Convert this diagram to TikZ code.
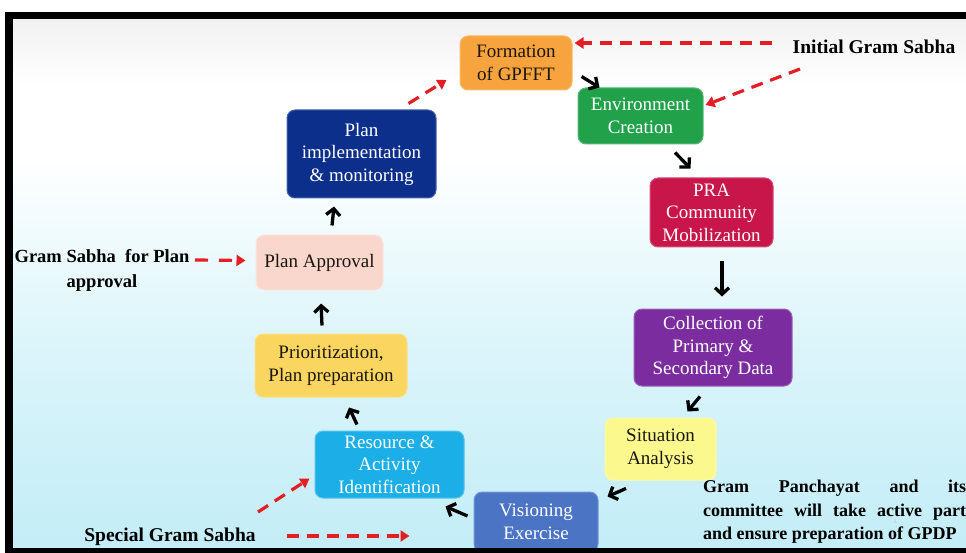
\documentclass[tikz,border=0pt]{standalone}
\usepackage{fontspec}
\setmainfont{Liberation Serif}
\usetikzlibrary{arrows.meta,calc}

\definecolor{bgT}{HTML}{F1F1F1}
\definecolor{bgM}{HTML}{DDF5FA}
\definecolor{bgB}{HTML}{C3EDF7}
\definecolor{cForm}{HTML}{F7A33E}
\definecolor{cEnv}{HTML}{22A14B}
\definecolor{cPra}{HTML}{C8164B}
\definecolor{cColl}{HTML}{7B2D9F}
\definecolor{cSit}{HTML}{FBF98E}
\definecolor{cVis}{HTML}{4B74C5}
\definecolor{cRes}{HTML}{1CAFE7}
\definecolor{cPrio}{HTML}{FAD660}
\definecolor{cAppr}{HTML}{F9D7CC}
\definecolor{cImpl}{HTML}{0C2F8C}
\definecolor{darktext}{HTML}{1C1610}
\definecolor{rdash}{HTML}{E31E24}

\pgfdeclareverticalshading{bgshade}{100bp}{color(0bp)=(bgB); color(25bp)=(bgB);
  color(45bp)=(bgM); color(62bp)=(white); color(69bp)=(white); color(75bp)=(bgT); color(100bp)=(bgT)}

\tikzset{
  box/.style={rectangle, rounded corners=8pt, align=center, inner sep=0pt,
    line width=1pt, font=\fontsize{19}{22.5}\selectfont},
  lbl/.style={inner sep=0pt, align=center, font=\bfseries\fontsize{19.5}{24}\selectfont},
  blk/.style={line width=3.3pt, -{Straight Barb[length=6.5pt,width=14pt]}},
  rdarrow/.style={draw=rdash, line width=3.2pt, dash pattern=on 12pt off 8pt,
    -{Triangle[length=9pt,width=11pt]}}
}

\begin{document}
\begin{tikzpicture}[x=1pt,y=-1pt]
\useasboundingbox (0,0) rectangle (966,553);
\fill[white] (0,0) rectangle (966,553);
% frame and slide background
\fill[black] (5,12) rectangle (966,553);
\shade[shading=bgshade] (13,20) rectangle (966,548);

% process steps
\node[box, fill=cForm, draw=cForm!75!white, text=darktext, minimum width=112pt, minimum height=54pt]
  (form) at (516,63) {Formation\\of GPFFT};
\node[box, fill=cEnv, draw=cEnv!75!white, text=white, minimum width=125pt, minimum height=56pt]
  (env) at (640.5,116) {Environment\\Creation};
\node[box, fill=cPra, draw=cPra!75!white, text=white, minimum width=123pt, minimum height=69pt]
  (pra) at (711.5,212.5) {PRA\\Community\\Mobilization};
\node[box, fill=cColl, draw=cColl!75!white, text=white, minimum width=158pt, minimum height=77pt]
  (coll) at (713,347.5) {Collection of\\Primary \&\\Secondary Data};
\node[box, fill=cSit, draw=cSit!75!white, text=darktext, minimum width=111pt, minimum height=62pt]
  (sit) at (660.5,449) {Situation\\Analysis};
\node[box, fill=cVis, draw=cVis!75!white, text=white, minimum width=124pt, minimum height=60pt]
  (vis) at (536,522) {Visioning\\Exercise};
\node[box, fill=cRes, draw=cRes!75!white, text=white, minimum width=149pt, minimum height=67pt]
  (res) at (389.5,464.5) {Resource \&\\Activity\\Identification};
\node[box, fill=cPrio, draw=cPrio!75!white, text=darktext, minimum width=152pt, minimum height=63pt]
  (prio) at (331,365.5) {Prioritization,\\Plan preparation};
\node[box, fill=cAppr, draw=cAppr!60!white, text=darktext, minimum width=127pt, minimum height=55pt]
  (appr) at (319.5,262.5) {Plan Approval};
\node[box, fill=cImpl, draw=cImpl!75!white, text=white, minimum width=149pt, minimum height=88pt]
  (impl) at (361.5,154) {Plan\\implementation\\\& monitoring};

% bottom edge of the frame over the last step
\fill[black] (5,548) rectangle (966,553);

% side labels
\node[lbl] (igs) at (874,47) {Initial Gram Sabha};
\node[lbl, font=\bfseries\fontsize{18.5}{25}\selectfont] (gsp) at (102,270) {Gram Sabha\ \ for Plan\\approval};
\node[lbl] (sgs) at (170,537) {Special Gram Sabha};
\node[inner sep=0pt, anchor=north west, text width=263pt, align=justify,
  font=\bfseries\fontsize{18}{23.5}\selectfont] (note) at (703,480)
  {Gram Panchayat and its\linebreak committee will take active part\linebreak and ensure preparation of GPDP};
\node[inner sep=0pt, text=black!25, font=\fontsize{6}{7}\selectfont] (pg) at (895,521.5) {1};

% cycle arrows
\draw[blk] ($(form.south east)+(9,-14)$) -- ($(env.north west)+(22,0)$);
\draw[blk] ($(env.south)+(34.5,8)$) -- ($(pra.north)+(-21,-9)$);
\draw[blk] ($(pra.south)+(10.5,14)$) -- ($(coll.north)+(9,-12)$);
\draw[blk] ($(coll.south)+(-13,10)$) -- ($(sit.north)+(27,-6)$);
\draw[blk] ($(sit.south)+(-34.5,8)$) -- ($(vis.north east)+(9,5)$);
\draw[blk] ($(vis.west)+(-6,-6)$) -- ($(res.south east)+(-19,8)$);
\draw[blk] ($(res.north)+(-32.5,-6)$) -- ($(prio.south)+(18,10)$);
\draw[blk] ($(prio.north)+(-9,-8)$) -- ($(appr.south)+(1.5,13)$);
\draw[blk] ($(appr.north)+(12.5,-9)$) -- ($(impl.south)+(-27.5,8)$);
\draw[rdarrow] ($(impl.north east)+(-28,-6)$) -- ($(form.west)+(-13,17)$);

% gram sabha inputs
\coordinate (sgsend) at ($(vis.west)+(-64,14)$);
\draw[rdarrow] ($(igs.center)+(-102,-4)$) -- ($(form.east)+(2,-20)$);
\draw[rdarrow] ($(igs.center)+(-74,22)$) -- ($(env.east)+(2,-11)$);
\draw[rdarrow, dash pattern=on 13pt off 11pt] ($(gsp.center)+(93,-10)$) -- ($(appr.west)+(-10,-2)$);
\draw[rdarrow] ($(sgs.center)+(88,-25)$) -- ($(res.west)+(-5,14)$);
\draw[rdarrow] ($(sgs.center)+(117,-1)$) -- (sgsend);
\end{tikzpicture}
\end{document}
